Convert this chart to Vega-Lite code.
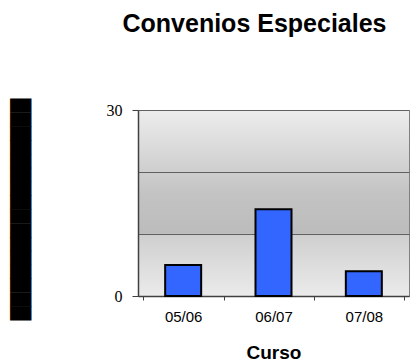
{
  "$schema": "https://vega.github.io/schema/vega-lite/v6.json",
  "width": 271,
  "height": 186,
  "autosize": "none",
  "padding": {"left": 138, "top": 110, "right": 2, "bottom": 67},
  "background": "white",
  "title": {
    "text": "Convenios Especiales",
    "font": "Liberation Sans",
    "fontSize": 25,
    "fontWeight": "bold",
    "color": "#000000",
    "anchor": "middle",
    "frame": "group",
    "dx": -19,
    "offset": 61
  },
  "config": {
    "view": {
      "fill": {
        "gradient": "linear",
        "x1": 0, "y1": 0, "x2": 0, "y2": 1,
        "stops": [
          {"offset": 0, "color": "#ededed"},
          {"offset": 0.45, "color": "#c3c3c3"},
          {"offset": 0.66, "color": "#bcbcbc"},
          {"offset": 0.67, "color": "#cfcfcf"},
          {"offset": 1, "color": "#ebebeb"}
        ]
      },
      "stroke": "#808080",
      "strokeWidth": 1
    }
  },
  "data": {
    "values": [
      {"curso": "05/06", "valor": 5},
      {"curso": "06/07", "valor": 14},
      {"curso": "07/08", "valor": 4}
    ]
  },
  "mark": {"type": "bar", "color": "#3366ff", "stroke": "#000000", "strokeWidth": 2, "width": 36},
  "encoding": {
    "x": {
      "field": "curso",
      "type": "nominal",
      "sort": null,
      "title": "Curso",
      "axis": {
        "labelAngle": 0,
        "labelFont": "Liberation Sans",
        "labelFontSize": 15,
        "labelColor": "#000000",
        "labelPadding": 9,
        "tickBand": "extent",
        "tickSize": 4,
        "tickColor": "#404040",
        "domainColor": "#404040",
        "domainWidth": 1.5,
        "titleFont": "Liberation Sans",
        "titleFontSize": 19,
        "titleFontWeight": "bold",
        "titleColor": "#000000",
        "titlePadding": 19,
        "grid": false
      }
    },
    "y": {
      "field": "valor",
      "type": "quantitative",
      "scale": {"domain": [0, 30], "nice": false},
      "title": "████████████████",
      "axis": {
        "values": [0, 10, 20, 30],
        "labelExpr": "datum.value == 10 || datum.value == 20 ? '' : datum.label",
        "tickOpacity": {"expr": "datum.value == 10 || datum.value == 20 ? 0 : 1"},
        "labelFont": "Liberation Serif",
        "labelFontSize": 16,
        "labelColor": "#000000",
        "labelPadding": 10,
        "tickSize": 6,
        "tickColor": "#404040",
        "domainColor": "#404040",
        "domainWidth": 1.5,
        "gridColor": "#606060",
        "gridWidth": 1,
        "gridOpacity": 1,
        "titleFont": "DejaVu Sans",
        "titleFontSize": 18,
        "titleColor": "#000000",
        "titleAngle": -90,
        "titleAlign": "center",
        "titleBaseline": "middle",
        "titleX": -117,
        "titleY": 99
      }
    }
  }
}
